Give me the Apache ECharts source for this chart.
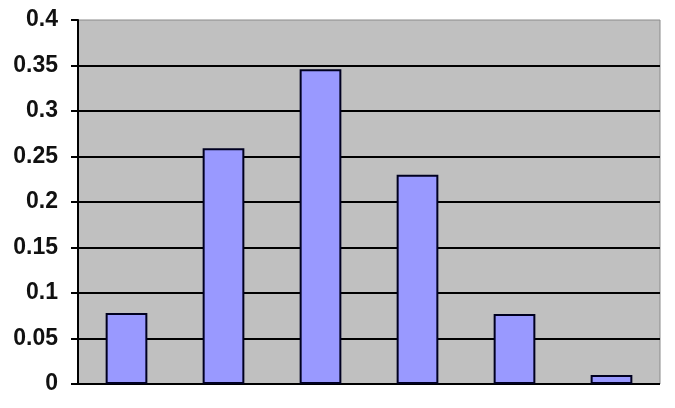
<!DOCTYPE html>
<html>
	<head>
		<meta charset="UTF-8">
		<title>chart</title>
		<script src="https://cdn.jsdelivr.net/npm/echarts@6/dist/echarts.min.js"></script>
		<style>
			html, body { margin: 0; padding: 0; background: #fff; }
		</style>
	</head>
	<body>
		<div id="main" style="width: 675px;height:408px;"></div>
	</body>
<script>
    // 数据
    var categories = ['0', '1', '2', '3', '4', '5'];
    var values = [0.078, 0.259, 0.346, 0.23, 0.077, 0.01];
    var yTicks = { min: 0, max: 0.4, interval: 0.05 };

    var option = {
        animation: false,
        grid: {
            left: 78,
            right: 15,
            top: 20,
            bottom: 24,
            show: true,
            backgroundColor: '#c0c0c0',
            borderColor: '#8a8a8a',
            borderWidth: 1
        },
        xAxis: {
            type: 'category',
            data: categories,
            axisLine: { show: false },
            axisTick: { show: false },
            axisLabel: { show: false }
        },
        yAxis: {
            type: 'value',
            min: yTicks.min,
            max: yTicks.max,
            interval: yTicks.interval,
            axisLine: { show: true, lineStyle: { color: '#000', width: 2 } },
            axisTick: { show: true, length: 7, lineStyle: { color: '#000', width: 2 } },
            axisLabel: {
                color: '#111',
                fontFamily: 'Liberation Sans',
                fontWeight: 'bold',
                fontSize: 23,
                margin: 20,
                formatter: function (v) { return String(+v.toFixed(2)); }
            },
            splitLine: {
                show: true,
                showMaxLine: false,
                lineStyle: { color: '#000', width: 2 }
            }
        },
        series: [
            {
                type: 'bar',
                data: values,
                barWidth: '43%',
                itemStyle: {
                    color: '#9999ff',
                    borderColor: '#000020',
                    borderWidth: 2
                }
            }
        ]
    };

    var myChart = echarts.init(document.getElementById('main'));
    myChart.setOption(option);
</script>
</html>
